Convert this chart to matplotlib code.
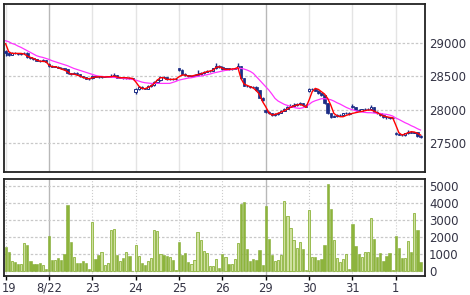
import matplotlib
matplotlib.use("Agg")
import matplotlib.pyplot as plt
import matplotlib.transforms as mtransforms
import numpy as np

# day labels, one session = 14 bars
day_labels = ['19', '8/22', '23', '24', '25', '26', '29', '30', '31', '1']
mondays = ['8/22', '29']

opens = [28880, 28845, 28820, 28855, 28845, 28835, 28845, 28855, 28785, 28770, 28755, 28735, 28730, 28745,
         28690, 28655, 28645, 28645, 28630, 28620, 28610, 28545, 28535, 28555, 28535, 28505, 28485, 28465,
         28470, 28505, 28495, 28485, 28495, 28495, 28500, 28505, 28515, 28480, 28485, 28470, 28480, 28475,
         28270, 28305, 28345, 28320, 28315, 28355, 28370, 28420, 28445, 28495, 28485, 28455, 28460, 28455,
         28620, 28595, 28535, 28515, 28505, 28510, 28520, 28535, 28545, 28570, 28580, 28585, 28620, 28655,
         28640, 28610, 28620, 28605, 28615, 28620, 28650, 28470, 28360, 28350, 28345, 28340, 28290, 28180,
         27995, 27970, 27945, 27920, 27935, 27955, 27985, 28015, 28045, 28055, 28070, 28085, 28095, 28070,
         28275, 28305, 28305, 28285, 28245, 28215, 28095, 27945, 27895, 27905, 27920, 27920, 27945, 27955,
         28060, 28035, 27995, 27985, 28005, 28010, 28015, 28035, 27970, 27945, 27920, 27895, 27885, 27870,
         27650, 27635, 27625, 27620, 27645, 27670, 27655, 27660, 27605]
highs = [28895, 28860, 28865, 28870, 28855, 28855, 28865, 28860, 28795, 28780, 28765, 28745, 28755, 28750,
         28700, 28665, 28660, 28655, 28640, 28630, 28615, 28555, 28565, 28565, 28540, 28510, 28490, 28475,
         28515, 28520, 28505, 28500, 28505, 28510, 28530, 28545, 28520, 28495, 28495, 28490, 28490, 28480,
         28320, 28355, 28355, 28330, 28365, 28380, 28430, 28460, 28505, 28505, 28490, 28470, 28470, 28475,
         28630, 28605, 28545, 28525, 28520, 28530, 28600, 28560, 28585, 28590, 28600, 28630, 28700, 28665,
         28650, 28630, 28630, 28625, 28630, 28700, 28660, 28480, 28375, 28360, 28355, 28350, 28300, 28195,
         28010, 27980, 27955, 27945, 27965, 27995, 28030, 28060, 28085, 28095, 28095, 28110, 28100, 28080,
         28325, 28320, 28315, 28295, 28255, 28225, 28100, 27955, 27915, 27930, 27935, 27955, 27970, 27965,
         28080, 28045, 28005, 28015, 28020, 28025, 28070, 28040, 27980, 27955, 27930, 27910, 27895, 27885,
         27660, 27645, 27635, 27655, 27690, 27680, 27670, 27670, 27620]
lows = [28800, 28805, 28815, 28835, 28825, 28825, 28840, 28775, 28760, 28745, 28725, 28720, 28725, 28710,
        28645, 28635, 28635, 28620, 28610, 28600, 28535, 28520, 28530, 28525, 28495, 28475, 28455, 28450,
        28460, 28485, 28475, 28480, 28485, 28485, 28490, 28495, 28470, 28470, 28460, 28465, 28465, 28455,
        28230, 28290, 28310, 28305, 28310, 28345, 28360, 28410, 28435, 28475, 28445, 28450, 28445, 28450,
        28585, 28525, 28505, 28495, 28495, 28505, 28510, 28525, 28540, 28565, 28570, 28580, 28610, 28625,
        28600, 28600, 28595, 28600, 28605, 28615, 28460, 28350, 28340, 28330, 28320, 28280, 28170, 28125,
        27955, 27930, 27900, 27910, 27925, 27945, 27975, 28005, 28035, 28045, 28060, 28075, 28060, 28035,
        28265, 28290, 28275, 28235, 28200, 28085, 27935, 27880, 27885, 27895, 27905, 27910, 27935, 27925,
        28025, 27985, 27975, 27980, 27995, 28000, 28005, 27960, 27935, 27910, 27880, 27865, 27855, 27855,
        27625, 27615, 27605, 27610, 27640, 27645, 27645, 27590, 27575]
closes = [28845, 28820, 28855, 28845, 28835, 28845, 28855, 28785, 28770, 28755, 28735, 28730, 28745, 28720,
          28655, 28645, 28645, 28630, 28620, 28610, 28545, 28535, 28555, 28535, 28505, 28485, 28465, 28460,
          28505, 28495, 28485, 28495, 28495, 28500, 28505, 28515, 28480, 28485, 28470, 28480, 28475, 28465,
          28305, 28345, 28320, 28315, 28355, 28370, 28420, 28445, 28495, 28485, 28455, 28460, 28455, 28465,
          28595, 28535, 28515, 28505, 28510, 28520, 28535, 28545, 28570, 28580, 28585, 28620, 28655, 28635,
          28610, 28620, 28605, 28615, 28620, 28660, 28470, 28360, 28350, 28345, 28340, 28290, 28180, 28140,
          27970, 27945, 27920, 27935, 27955, 27985, 28015, 28045, 28055, 28070, 28085, 28095, 28070, 28045,
          28305, 28305, 28285, 28245, 28215, 28095, 27945, 27895, 27905, 27920, 27920, 27945, 27955, 27935,
          28035, 27995, 27985, 28005, 28010, 28015, 28035, 27970, 27945, 27920, 27895, 27885, 27870, 27870,
          27635, 27625, 27620, 27645, 27670, 27655, 27660, 27605, 27595]

# short (red) and long (magenta) average lines
ma_short = [28990, 28870, 28845, 28845, 28845, 28845, 28835, 28805, 28785, 28770, 28745, 28730, 28725, 28720,
            28670, 28645, 28645, 28630, 28610, 28595, 28570, 28535, 28535, 28520, 28505, 28485, 28470, 28465,
            28480, 28490, 28495, 28495, 28490, 28495, 28495, 28505, 28490, 28480, 28480, 28480, 28475, 28470,
            28420, 28355, 28320, 28315, 28335, 28355, 28395, 28445, 28480, 28480, 28455, 28455, 28455, 28460,
            28495, 28520, 28520, 28505, 28505, 28515, 28525, 28535, 28555, 28570, 28580, 28595, 28635, 28645,
            28620, 28605, 28605, 28610, 28615, 28635, 28470, 28385, 28365, 28345, 28325, 28285, 28230, 28120,
            28045, 27955, 27920, 27930, 27945, 27965, 27985, 28010, 28035, 28055, 28070, 28080, 28065, 28035,
            28145, 28270, 28320, 28305, 28270, 28235, 28170, 28070, 27945, 27910, 27895, 27895, 27915, 27930,
            27945, 27955, 27965, 27975, 27985, 27995, 27995, 27980, 27955, 27930, 27905, 27895, 27885, 27880,
            27770, 27655, 27620, 27635, 27655, 27670, 27665, 27645, 27620]
ma_long = [29035, 29020, 28995, 28980, 28955, 28935, 28910, 28885, 28860, 28835, 28810, 28795, 28785, 28770,
           28755, 28735, 28720, 28705, 28690, 28675, 28660, 28640, 28620, 28605, 28590, 28575, 28560, 28545,
           28530, 28515, 28505, 28500, 28495, 28490, 28485, 28485, 28480, 28475, 28470, 28465, 28460, 28455,
           28445, 28430, 28415, 28405, 28400, 28395, 28395, 28395, 28395, 28395, 28395, 28395, 28410, 28425,
           28445, 28455, 28465, 28475, 28480, 28490, 28500, 28505, 28515, 28525, 28535, 28550, 28560, 28570,
           28580, 28590, 28595, 28605, 28610, 28620, 28620, 28610, 28595, 28575, 28545, 28495, 28445, 28395,
           28345, 28295, 28235, 28170, 28130, 28105, 28080, 28065, 28050, 28035, 28025, 28020, 28030, 28045,
           28080, 28115, 28135, 28150, 28165, 28165, 28160, 28150, 28130, 28105, 28085, 28060, 28035, 28015,
           28000, 27985, 27975, 27965, 27960, 27955, 27955, 27950, 27945, 27945, 27935, 27930, 27920, 27905,
           27875, 27855, 27830, 27805, 27785, 27760, 27740, 27715, 27695]

volume = [1420, 1115, 600, 560, 420, 420, 1670, 1540, 600, 420, 440, 500, 385, 135,
          2040, 690, 690, 770, 650, 1000, 3850, 1710, 865, 500, 520, 635, 520, 155,
          2865, 730, 940, 1150, 385, 480, 2440, 2480, 980, 600, 770, 1115, 885, 40,
          1560, 885, 480, 350, 600, 810, 2440, 2385, 1000, 940, 900, 865, 650, 100,
          1730, 940, 1100, 540, 440, 650, 2330, 1850, 1190, 1060, 330, 330, 750, 190,
          1040, 850, 420, 460, 710, 1650, 3920, 4040, 1330, 635, 710, 650, 1270, 350,
          3830, 1900, 960, 600, 650, 940, 4115, 3250, 2540, 1810, 1365, 1710, 1290, 75,
          3600, 830, 830, 690, 710, 1560, 5080, 3650, 1830, 770, 580, 710, 1020, 170,
          2770, 1500, 1020, 850, 1115, 1115, 3135, 1865, 830, 1080, 615, 900, 1060, 75,
          2060, 1365, 810, 790, 1750, 1135, 3400, 2440, 580]

price_ticks = [27500, 28000, 28500, 29000]
volume_ticks = [0, 1000, 2000, 3000, 4000, 5000]

navy = '#1b2c86'
x = np.arange(len(closes))
o = np.array(opens)
c = np.array(closes)
up = c >= o
day_pos = [i * 14 for i in range(len(day_labels))]

fig = plt.figure(figsize=(4.7, 2.95), dpi=100)
ax1 = fig.add_axes([0.009, 0.418, 0.895, 0.567])
ax2 = fig.add_axes([0.009, 0.064, 0.895, 0.328])

for ax in (ax1, ax2):
    ax.set_xlim(-0.45, 135.4)
    for lab, p in zip(day_labels, day_pos):
        if lab in mondays:
            ax.axvline(p, color='#b8b8b8', lw=1, zorder=0)
        elif ax is ax1:
            ax.axvline(p, color='#e4e4e4', lw=1, zorder=0)
        else:
            ax.axvline(p, color='#cccccc', lw=0.8, ls=':', zorder=0)
    ax.yaxis.tick_right()
    ax.tick_params(axis='y', length=0, pad=3, labelsize=8.5, labelcolor='#333344')
    for s in ax.spines.values():
        s.set_linewidth(1.3)
        s.set_color('#222222')

# price panel
ax1.set_ylim(27070, 29580)
ax1.set_yticks(price_ticks)
ax1.yaxis.grid(True, color='#c8c8c8', ls=(0, (2, 1.5)), lw=0.9)
ax1.set_axisbelow(True)
ax1.set_xticks([])
ax1.vlines(x, lows, highs, color=navy, lw=1.0, zorder=2)
ax1.bar(x[~up], np.maximum((o - c)[~up], 8), bottom=c[~up], width=0.8, color=navy, edgecolor=navy, lw=0.5, zorder=3)
ax1.bar(x[up], np.maximum((c - o)[up], 8), bottom=o[up], width=0.8, color='white', edgecolor=navy, lw=0.7, zorder=3)
ax1.plot(x, ma_long, color='#ff33ff', lw=0.9, zorder=4)
ax1.plot(x, ma_short, color='#ff0000', lw=1.0, zorder=5)

# volume panel
ax2.set_ylim(-270, 5370)
ax2.set_yticks(volume_ticks)
ax2.yaxis.grid(True, color='#c8c8c8', ls=(0, (2, 1.5)), lw=0.9)
ax2.set_axisbelow(True)
vol = np.array(volume)
ax2.bar(x[~up], vol[~up], width=0.72, color='#8db43c', edgecolor='#86ad35', lw=0.4, zorder=3)
ax2.bar(x[up], vol[up], width=0.72, color='#cfe0a0', edgecolor='#8db43c', lw=0.6, zorder=3)
ax2.set_xticks(day_pos)
ax2.set_xticklabels(day_labels)
ax2.tick_params(axis='x', length=3, width=1, labelsize=8.3, labelcolor='#333344', pad=1)

# first label sits slightly right of its tick so it stays inside the picture
first = ax2.get_xticklabels()[0]
first.set_transform(first.get_transform() + mtransforms.ScaledTranslation(3 / 100, 0, fig.dpi_scale_trans))

fig.savefig('out.png', dpi=100)
